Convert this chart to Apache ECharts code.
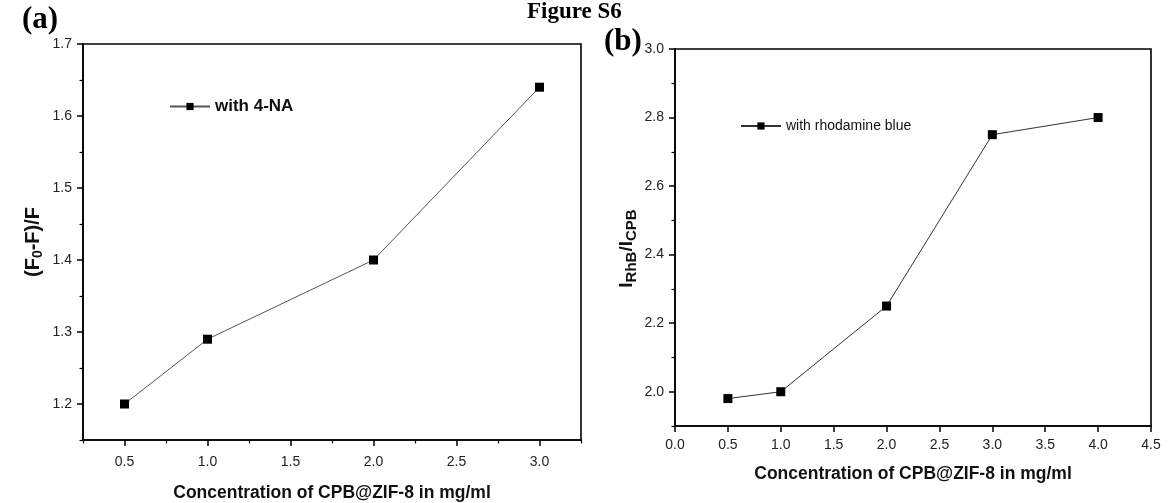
<!DOCTYPE html>
<html>
<head>
<meta charset="utf-8">
<script src="https://cdn.jsdelivr.net/npm/echarts@6/dist/echarts.min.js"></script>
<style>
  html, body { margin: 0; padding: 0; background: #fff; }
  #chart { width: 1171px; height: 503px; }
</style>
</head>
<body>
<div id="chart"></div>
<script>
// Panel (a): quenching ratio with 4-NA
const concA = [0.5, 1.0, 2.0, 3.0];
const ratioA = [1.20, 1.29, 1.40, 1.64];
// Panel (b): intensity ratio with rhodamine blue
const concB = [0.5, 1.0, 2.0, 3.0, 4.0];
const ratioB = [1.98, 2.00, 2.25, 2.75, 2.80];

// tick positions
const xMajorA = [0.5, 1.0, 1.5, 2.0, 2.5, 3.0];
const xMinorA = [0.25, 0.75, 1.25, 1.75, 2.25, 2.75, 3.25];
const yMajorA = [1.2, 1.3, 1.4, 1.5, 1.6, 1.7];
const yMinorA = [1.15, 1.25, 1.35, 1.45, 1.55, 1.65];
const xMajorB = [0.0, 0.5, 1.0, 1.5, 2.0, 2.5, 3.0, 3.5, 4.0, 4.5];
const yMajorB = [2.0, 2.2, 2.4, 2.6, 2.8, 3.0];
const yMinorB = [1.9, 2.1, 2.3, 2.5, 2.7, 2.9];

const xTitle = 'Concentration of CPB@ZIF-8 in mg/ml';

const sans = 'Liberation Sans, Arial, sans-serif';
const serif = 'Liberation Serif, Times New Roman, serif';
const fmt1 = v => Number(v).toFixed(1);

function majorAxis(gridIndex, min, max, ticks, margin, extra) {
  return Object.assign({
    type: 'value', gridIndex, min, max,
    axisLine: { show: true, onZero: false, lineStyle: { color: '#000', width: 1.6 } },
    axisTick: { show: true, inside: false, length: 6, customValues: ticks,
                lineStyle: { color: '#000', width: 1.5 } },
    axisLabel: { show: true, customValues: ticks, formatter: fmt1,
                 color: '#222', fontFamily: sans, fontSize: 14, margin },
    splitLine: { show: false }
  }, extra || {});
}
function minorAxis(gridIndex, min, max, ticks, position) {
  return {
    type: 'value', gridIndex, min, max, position,
    axisLine: { show: false },
    axisTick: { show: true, inside: false, length: 3.5, customValues: ticks,
                lineStyle: { color: '#000', width: 1.2 } },
    axisLabel: { show: false },
    splitLine: { show: false }
  };
}

const xNameStyle = { fontFamily: sans, fontWeight: 'bold', fontSize: 17.5, color: '#111' };

const chart = echarts.init(document.getElementById('chart'), null, { renderer: 'canvas' });

chart.setOption({
  backgroundColor: '#fff',
  animation: false,
  title: {
    text: 'Figure S6', left: 522, top: -4,
    textStyle: { fontFamily: serif, fontWeight: 'bold', fontSize: 23, color: '#000' }
  },
  graphic: [
    { type: 'text', left: 22, top: 4,
      style: { text: '(a)', font: 'bold 31px ' + serif, fill: '#000' } },
    { type: 'text', left: 604, top: 26,
      style: { text: '(b)', font: 'bold 31px ' + serif, fill: '#000' } }
  ],
  grid: [
    { left: 83, top: 44, width: 498, height: 396, show: true, outerBoundsMode: 'none',
      containLabel: false, borderColor: '#000', borderWidth: 1.6, backgroundColor: 'transparent' },
    { left: 675, top: 49, width: 476, height: 377, show: true, outerBoundsMode: 'none',
      containLabel: false, borderColor: '#000', borderWidth: 1.6, backgroundColor: 'transparent' }
  ],
  legend: [
    { data: ['with 4-NA'], left: 164, top: 93, itemWidth: 40, itemHeight: 9, itemGap: 6,
      textStyle: { fontFamily: sans, fontWeight: 'bold', fontSize: 17, color: '#111' } },
    { data: ['with rhodamine blue'], left: 735, top: 114, itemWidth: 40, itemHeight: 9, itemGap: 4,
      textStyle: { fontFamily: sans, fontSize: 14, color: '#111' } }
  ],
  xAxis: [
    majorAxis(0, 0.25, 3.25, xMajorA, 15, {
      position: 'bottom', name: xTitle, nameLocation: 'middle', nameGap: 44,
      nameTextStyle: xNameStyle
    }),
    minorAxis(0, 0.25, 3.25, xMinorA, 'bottom'),
    majorAxis(1, 0, 4.5, xMajorB, 12, {
      position: 'bottom', name: xTitle, nameLocation: 'middle', nameGap: 39,
      nameTextStyle: xNameStyle
    })
  ],
  yAxis: [
    majorAxis(0, 1.15, 1.7, yMajorA, 11, {
      position: 'left', name: '{n|(F}{s|0}{n|-F)/F}', nameLocation: 'middle', nameGap: 38,
      nameTextStyle: { rich: {
        n: { fontFamily: sans, fontWeight: 'bold', fontSize: 20, color: '#111' },
        s: { fontFamily: sans, fontWeight: 'bold', fontSize: 14, color: '#111', verticalAlign: 'bottom', padding: [9, 0, 0, 0] }
      } }
    }),
    minorAxis(0, 1.15, 1.7, yMinorA, 'left'),
    majorAxis(1, 1.9, 3.0, yMajorB, 11, {
      position: 'left', name: '{n|I}{s|RhB}{n|/I}{s|CPB}', nameLocation: 'middle', nameGap: 36,
      nameTextStyle: { padding: [0, 22, 0, 0], rich: {
        n: { fontFamily: sans, fontWeight: 'bold', fontSize: 19, color: '#111' },
        s: { fontFamily: sans, fontWeight: 'bold', fontSize: 15, color: '#111', verticalAlign: 'bottom', padding: [9, 0, 0, 0] }
      } }
    }),
    minorAxis(1, 1.9, 3.0, yMinorB, 'left')
  ],
  series: [
    {
      name: 'with 4-NA', type: 'line', xAxisIndex: 0, yAxisIndex: 0,
      data: concA.map((x, i) => [x, ratioA[i]]),
      symbol: 'rect', symbolSize: 9, showSymbol: true,
      itemStyle: { color: '#000' },
      lineStyle: { color: '#555', width: 1 }
    },
    {
      name: 'with rhodamine blue', type: 'line', xAxisIndex: 2, yAxisIndex: 2,
      data: concB.map((x, i) => [x, ratioB[i]]),
      symbol: 'rect', symbolSize: 9, showSymbol: true,
      itemStyle: { color: '#000' },
      lineStyle: { color: '#333', width: 1 }
    }
  ]
});
</script>
</body>
</html>
